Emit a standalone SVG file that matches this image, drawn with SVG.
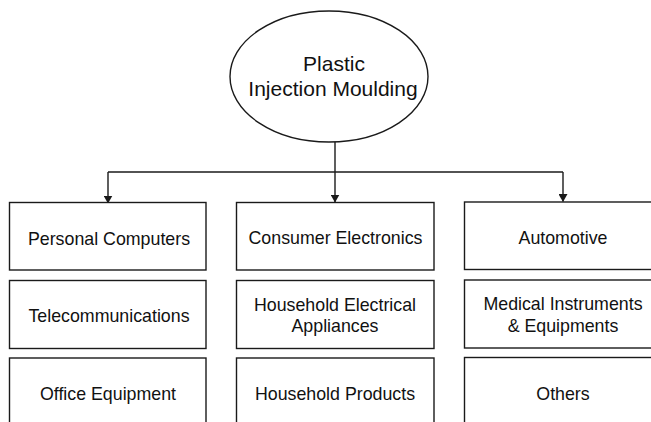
<svg xmlns="http://www.w3.org/2000/svg" width="651" height="422" viewBox="0 0 651 422">
  <style>
    .box { fill: #ffffff; stroke: #1a1a1a; stroke-width: 1.4; }
    .root { fill: #ffffff; stroke: #1a1a1a; stroke-width: 1.4; }
    .lbl { font-family: "Liberation Sans", Arial, Helvetica, sans-serif; font-size: 17.8px; fill: #111111; text-anchor: middle; }
    .title { font-family: "Liberation Sans", Arial, Helvetica, sans-serif; font-size: 21px; fill: #111111; text-anchor: middle; }
    .wire { fill: none; stroke: #1a1a1a; stroke-width: 1.4; }
  </style>
  <defs>
    <marker id="arrow" markerWidth="8" markerHeight="9" refX="7.5" refY="4.5" orient="auto" markerUnits="userSpaceOnUse">
      <path d="M0,0 L8,4.5 L0,9 Z" fill="#1a1a1a"/>
    </marker>
  </defs>
  <rect width="651" height="422" fill="#ffffff"/>

  <!-- connectors -->
  <g id="connectors">
    <path class="wire" d="M335,142 V202" marker-end="url(#arrow)"/>
    <path class="wire" d="M108,172 H563"/>
    <path class="wire" d="M108,172 V203" marker-end="url(#arrow)"/>
    <path class="wire" d="M563,172 V201.5" marker-end="url(#arrow)"/>
  </g>

  <!-- root -->
  <g id="plastic-injection-moulding">
    <ellipse class="root" cx="329" cy="76.5" rx="99" ry="65.5"/>
    <text class="title" x="334" y="71">Plastic</text>
    <text class="title" x="333" y="95.5">Injection Moulding</text>
  </g>

  <!-- column 1 -->
  <g id="personal-computers">
    <rect class="box" x="9.5" y="202.5" width="196.5" height="67.5"/>
    <text class="lbl" x="109" y="245">Personal Computers</text>
  </g>
  <g id="telecommunications">
    <rect class="box" x="9.5" y="280.5" width="196.5" height="68"/>
    <text class="lbl" x="109" y="322">Telecommunications</text>
  </g>
  <g id="office-equipment">
    <rect class="box" x="9.5" y="358" width="196.5" height="72"/>
    <text class="lbl" x="108" y="400">Office Equipment</text>
  </g>

  <!-- column 2 -->
  <g id="consumer-electronics">
    <rect class="box" x="236.5" y="202.5" width="197.5" height="67.5"/>
    <text class="lbl" x="335.5" y="244">Consumer Electronics</text>
  </g>
  <g id="household-electrical-appliances">
    <rect class="box" x="236.5" y="280.5" width="197.5" height="68"/>
    <text class="lbl" x="335" y="310.5">Household Electrical</text>
    <text class="lbl" x="335" y="332">Appliances</text>
  </g>
  <g id="household-products">
    <rect class="box" x="236.5" y="358" width="197.5" height="72"/>
    <text class="lbl" x="335" y="400">Household Products</text>
  </g>

  <!-- column 3 -->
  <g id="automotive">
    <rect class="box" x="464.5" y="202" width="197.5" height="67.5"/>
    <text class="lbl" x="563" y="244">Automotive</text>
  </g>
  <g id="medical-instruments-equipments">
    <rect class="box" x="464.5" y="280" width="197.5" height="68"/>
    <text class="lbl" x="563" y="310">Medical Instruments</text>
    <text class="lbl" x="563" y="331.5">&amp; Equipments</text>
  </g>
  <g id="others">
    <rect class="box" x="464.5" y="357.5" width="197.5" height="72"/>
    <text class="lbl" x="563" y="399.5">Others</text>
  </g>
</svg>
